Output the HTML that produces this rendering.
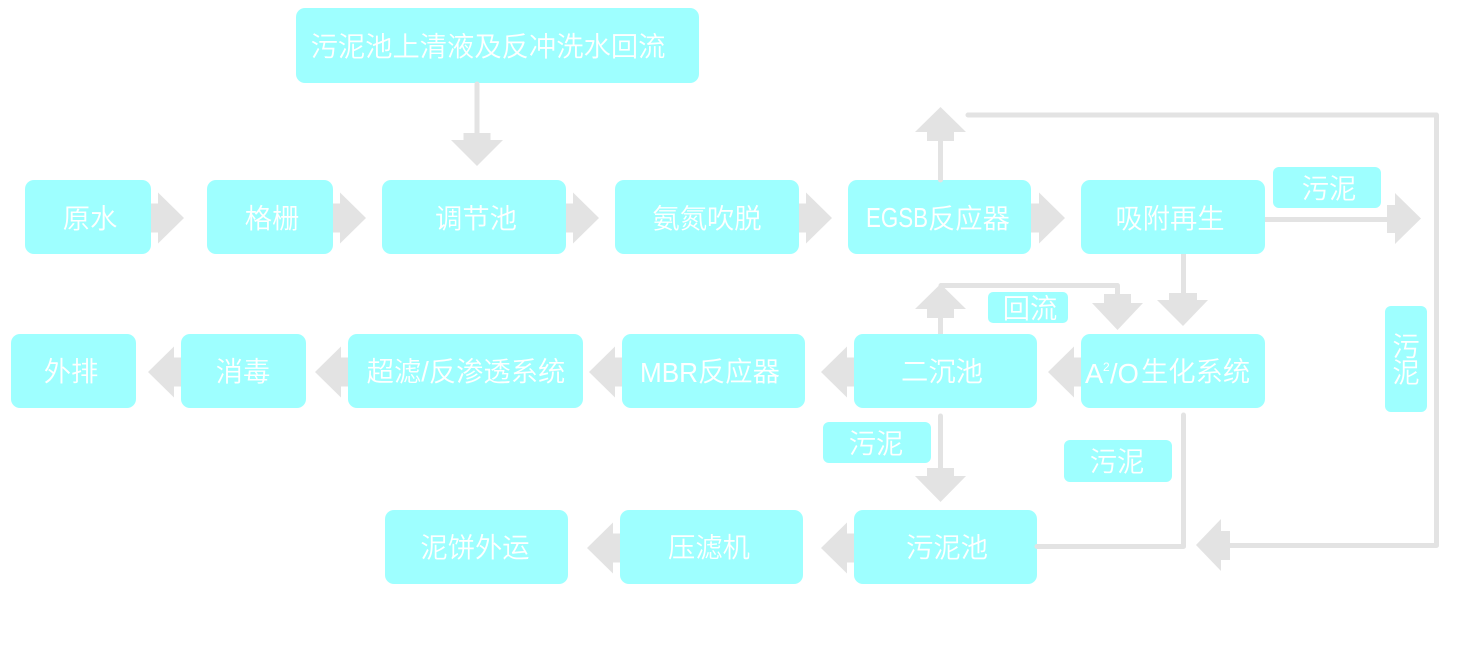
<!DOCTYPE html>
<html><head><meta charset="utf-8">
<style>
html,body{margin:0;padding:0;background:#fff;}
svg{display:block;}
text{font-family:"Liberation Sans","Noto Sans CJK SC",sans-serif;font-size:27.3px;fill:#fff;font-weight:350;}
</style></head>
<body>
<svg width="1468" height="649" viewBox="0 0 1468 649" xmlns="http://www.w3.org/2000/svg">
<g fill="#9effff">
  <rect x="296" y="8" width="403" height="75" rx="9"/>
  <rect x="25" y="180" width="126" height="74" rx="9"/>
  <rect x="207" y="180" width="126" height="74" rx="9"/>
  <rect x="382" y="180" width="184" height="74" rx="9"/>
  <rect x="615" y="180" width="184" height="74" rx="9"/>
  <rect x="848" y="180" width="183" height="74" rx="9"/>
  <rect x="1081" y="180" width="184" height="74" rx="9"/>
  <rect x="11" y="334" width="125" height="74" rx="9"/>
  <rect x="181" y="334" width="125" height="74" rx="9"/>
  <rect x="348" y="334" width="235" height="74" rx="9"/>
  <rect x="622" y="334" width="183" height="74" rx="9"/>
  <rect x="854" y="334" width="183" height="74" rx="9"/>
  <rect x="1081" y="334" width="184" height="74" rx="9"/>
  <rect x="385" y="510" width="183" height="74" rx="9"/>
  <rect x="620" y="510" width="183" height="74" rx="9"/>
  <rect x="854" y="510" width="183" height="74" rx="9"/>
  <rect x="1273" y="167" width="108" height="41" rx="6"/>
  <rect x="988" y="292" width="80" height="31" rx="5"/>
  <rect x="1385" y="306" width="42" height="106" rx="6"/>
  <rect x="823" y="422" width="108" height="41" rx="6"/>
  <rect x="1064" y="440" width="108" height="42" rx="6"/>
</g>
<g fill="none" stroke="#e3e3e3" stroke-width="5" stroke-linecap="round" stroke-linejoin="round">
  <line x1="477" y1="84" x2="477" y2="134"/>
  <line x1="940.5" y1="180" x2="940.5" y2="140"/>
  <polyline points="968,115 1436.5,115 1436.5,545.5 1229,545.5"/>
  <line x1="1265" y1="219.5" x2="1388" y2="219.5" stroke-linecap="butt"/>
  <line x1="1183.5" y1="254" x2="1183.5" y2="294" stroke-linecap="butt"/>
  <line x1="940.5" y1="334" x2="940.5" y2="317" stroke-linecap="butt"/>
  <polyline points="941,285.5 1117.5,285.5 1117.5,295"/>
  <line x1="940.5" y1="416" x2="940.5" y2="469"/>
  <polyline points="1183.5,415 1183.5,546.5 1037,546.5"/>
</g>
<g fill="#e3e3e3">
  <polygon points="463.5,133 490.5,133 490.5,140 503,140 477,166 451,140 463.5,140"/>
  <polygon points="927,141 954,141 954,132 966,132 940.5,107 915,132 927,132"/>
  <polygon points="1230,531 1221,531 1221,519 1196,545 1221,571 1221,560 1230,560"/>
  <polygon points="1387,205 1395,205 1395,193 1421,218.5 1395,244 1395,233 1387,233"/>
  <polygon points="1169,293 1197,293 1197,300 1208,300 1183,326 1157,300 1169,300"/>
  <polygon points="927,318 954,318 954,309 966,309 940.5,284 915,309 927,309"/>
  <polygon points="1104,294 1131,294 1131,303 1143,303 1117.5,330 1092,303 1104,303"/>
  <polygon points="927,468 954,468 954,476 966,476 940.5,502 915,476 927,476"/>
  <polygon points="151,203.5 158,203.5 158,192.5 184,218 158,243.5 158,232.5 151,232.5"/>
  <polygon points="333,203.5 340,203.5 340,192.5 366,218 340,243.5 340,232.5 333,232.5"/>
  <polygon points="566,203.5 573,203.5 573,192.5 599,218 573,243.5 573,232.5 566,232.5"/>
  <polygon points="799,203.5 806,203.5 806,192.5 832,218 806,243.5 806,232.5 799,232.5"/>
  <polygon points="1031,203.5 1039,203.5 1039,192.5 1065,218 1039,243.5 1039,232.5 1031,232.5"/>
  <polygon points="181,357.5 174,357.5 174,346.5 148,372 174,397.5 174,386.5 181,386.5"/>
  <polygon points="348,357.5 341,357.5 341,346.5 315,372 341,397.5 341,386.5 348,386.5"/>
  <polygon points="622,357.5 615,357.5 615,346.5 589,372 615,397.5 615,386.5 622,386.5"/>
  <polygon points="854,357.5 847,357.5 847,346.5 821,372 847,397.5 847,386.5 854,386.5"/>
  <polygon points="1081,357.5 1074,357.5 1074,346.5 1048,372 1074,397.5 1074,386.5 1081,386.5"/>
  <polygon points="620,533.5 613,533.5 613,522.5 587,548 613,573.5 613,562.5 620,562.5"/>
  <polygon points="854,533.5 847,533.5 847,522.5 821,548 847,573.5 847,562.5 854,562.5"/>
</g>
<g text-anchor="middle">
  <text x="488" y="56">污泥池上清液及反冲洗水回流</text>
  <text x="90" y="228">原水</text>
  <text x="272" y="228">格栅</text>
  <text x="476" y="228">调节池</text>
  <text x="707" y="228">氨氮吹脱</text>
  <text x="1170" y="228">吸附再生</text>
  <text x="71" y="381">外排</text>
  <text x="243" y="381">消毒</text>
  <text x="466" y="381">超滤/反渗透系统</text>
  <text x="942" y="381">二沉池</text>
  <text x="475" y="557">泥饼外运</text>
  <text x="709" y="557">压滤机</text>
  <text x="947" y="557">污泥池</text>
  <text x="1329" y="198">污泥</text>
  <text x="1030" y="318">回流</text>
  <text x="876" y="453">污泥</text>
  <text x="1117" y="471">污泥</text>
  <text x="1406" y="356">污</text>
  <text x="1406" y="382">泥</text>
</g>
<text x="866" y="227" textLength="62" lengthAdjust="spacingAndGlyphs">EGSB</text>
<text x="928" y="228">反应器</text>
<text x="640" y="382" textLength="58" lengthAdjust="spacingAndGlyphs">MBR</text>
<text x="698" y="381">反应器</text>
<text x="1085" y="383">A</text>
<text x="1103" y="371" style="font-size:12px">2</text>
<text x="1110" y="383">/O</text>
<text x="1141" y="381">生化系统</text>
</svg>
</body></html>
